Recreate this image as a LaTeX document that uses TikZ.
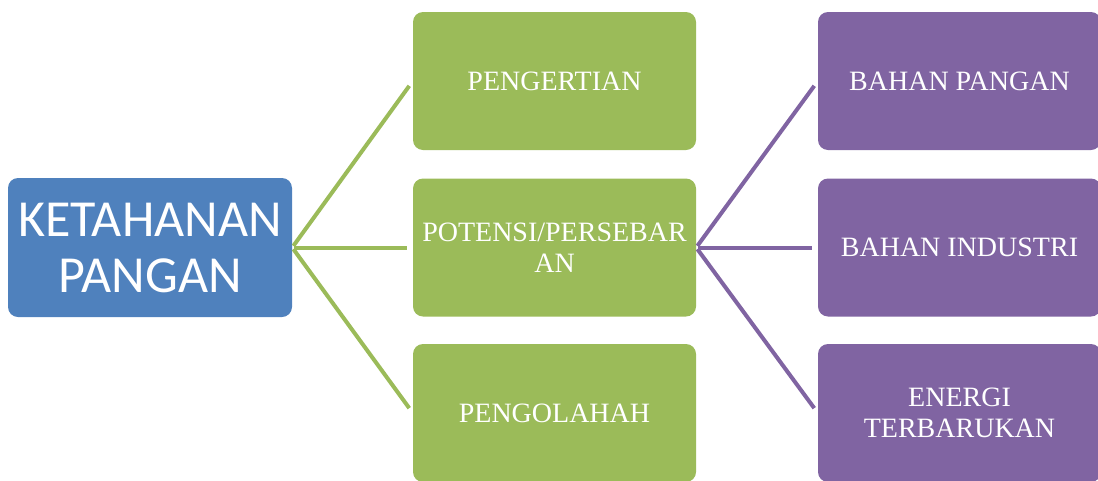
\documentclass[tikz,border=0pt]{standalone}
\usepackage{fontspec}
\newfontfamily\sidefont{Liberation Serif}
\newfontfamily\rootfont{Carlito}
\definecolor{rootblue}{HTML}{4F81BD}
\definecolor{leafgreen}{HTML}{9BBB59}
\definecolor{leafpurple}{HTML}{8064A2}
\begin{document}
\begin{tikzpicture}[x=1pt,y=-1pt,
    box/.style={rounded corners=10pt, minimum width=283pt, minimum height=138pt,
                inner sep=0pt, text=white, align=center},
    greenbox/.style={box, fill=leafgreen, font=\sidefont\fontsize{28}{31}\selectfont},
    purplebox/.style={box, fill=leafpurple, font=\sidefont\fontsize{28}{31}\selectfont},
    rootbox/.style={box, minimum width=284pt, minimum height=139pt, fill=rootblue,
                font=\rootfont\fontsize{52}{56}\selectfont},
    greenlink/.style={draw=leafgreen, line width=4pt, shorten >=6pt, shorten <=2pt},
    purplelink/.style={draw=leafpurple, line width=4pt, shorten >=6pt, shorten <=2pt}]
\useasboundingbox (0,0) rectangle (1098,480);
\node[rootbox] (root) at (150,247.5) {KETAHANAN\\PANGAN};
\node[greenbox] (pengertian) at (554.5,81) {PENGERTIAN};
\node[greenbox] (potensi) at (554.5,247.5) {POTENSI/PERSEBAR\\AN};
\node[greenbox] (pengolahah) at (554.5,413) {PENGOLAHAH};
\node[purplebox] (pangan) at (959.5,81) {BAHAN PANGAN};
\node[purplebox] (industri) at (959.5,247.5) {BAHAN INDUSTRI};
\node[purplebox] (energi) at (959.5,413) {ENERGI\\TERBARUKAN};
\foreach \n in {pengertian, potensi, pengolahah}
    \draw[greenlink] (root.east) -- (\n.west);
\foreach \n in {pangan, industri, energi}
    \draw[purplelink] (potensi.east) -- (\n.west);
\end{tikzpicture}
\end{document}
